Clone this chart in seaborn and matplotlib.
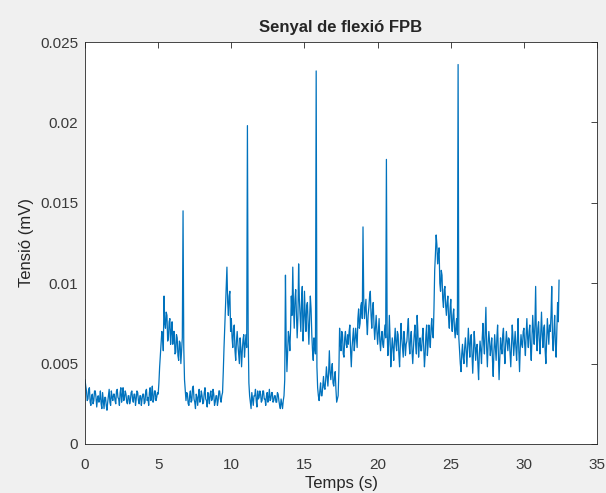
import numpy as np
import pandas as pd
from matplotlib import pyplot as plt
import seaborn as sns

tensio = [
    40, 36, 33, 27, 28, 34, 35, 26, 24, 30, 31, 25, 27, 33, 33, 29, 23, 28, 30, 26,
    28, 33, 25, 22, 32, 27, 22, 29, 29, 24, 21, 26, 30, 34, 26, 24, 33, 29, 27, 31,
    31, 27, 25, 33, 34, 29, 28, 24, 32, 35, 26, 30, 35, 27, 29, 33, 31, 26, 25, 30,
    30, 25, 27, 32, 33, 28, 26, 31, 31, 24, 28, 33, 32, 27, 25, 30, 30, 24, 28, 31,
    31, 25, 26, 33, 34, 27, 29, 24, 32, 35, 27, 31, 36, 26, 28, 33, 33, 27, 29, 32,
    31, 38, 48, 55, 62, 70, 68, 58, 92, 75, 72, 82, 80, 64, 66, 76, 78, 62, 70, 76,
    62, 70, 70, 56, 57, 68, 66, 55, 52, 64, 63, 50, 58, 66, 145, 60, 40, 33, 27, 32,
    31, 25, 24, 30, 33, 26, 27, 35, 36, 28, 26, 22, 31, 29, 24, 30, 34, 26, 28, 33,
    30, 25, 26, 32, 35, 28, 27, 23, 32, 29, 25, 31, 33, 27, 28, 34, 31, 24, 26, 30,
    30, 24, 27, 33, 33, 28, 26, 30, 32, 45, 60, 72, 85, 98, 110, 88, 80, 92, 95, 70,
    78, 66, 60, 72, 74, 58, 52, 64, 70, 62, 56, 50, 66, 60, 48, 58, 65, 68, 54, 62,
    68, 60, 198, 70, 38, 30, 26, 22, 32, 28, 24, 30, 30, 34, 27, 23, 33, 28, 29, 33,
    31, 26, 27, 33, 33, 28, 28, 24, 30, 32, 26, 29, 34, 27, 28, 32, 32, 26, 27, 30,
    30, 26, 26, 32, 31, 27, 24, 22, 28, 25, 22, 27, 30, 40, 105, 62, 45, 58, 70, 66,
    58, 72, 92, 80, 110, 85, 72, 90, 96, 80, 66, 78, 112, 90, 80, 70, 90, 98, 64, 74,
    95, 80, 70, 86, 88, 74, 62, 78, 92, 84, 68, 58, 52, 66, 60, 56, 232, 48, 35, 30,
    27, 33, 38, 30, 30, 36, 42, 35, 34, 40, 48, 42, 36, 44, 58, 45, 40, 46, 50, 38,
    36, 42, 45, 34, 26, 28, 30, 45, 72, 62, 58, 70, 68, 56, 54, 66, 70, 62, 60, 68,
    62, 70, 74, 58, 48, 60, 66, 72, 58, 64, 72, 66, 60, 78, 84, 72, 75, 86, 88, 78,
    135, 90, 78, 84, 90, 76, 68, 80, 85, 92, 95, 80, 72, 84, 88, 74, 65, 72, 80, 70,
    62, 70, 78, 64, 58, 66, 70, 62, 60, 68, 74, 66, 177, 70, 55, 62, 80, 66, 48, 58,
    66, 60, 52, 64, 72, 62, 58, 70, 68, 56, 48, 62, 75, 66, 60, 54, 70, 64, 55, 62,
    64, 72, 78, 62, 56, 66, 70, 58, 50, 60, 68, 74, 62, 56, 80, 70, 54, 62, 66, 58,
    58, 66, 72, 60, 48, 56, 68, 74, 55, 62, 74, 66, 60, 72, 78, 68, 66, 84, 108, 118,
    130, 124, 112, 118, 122, 100, 95, 108, 105, 90, 85, 96, 98, 86, 80, 88, 92, 78, 72, 84,
    90, 76, 70, 80, 84, 72, 66, 74, 78, 68, 236, 66, 58, 50, 45, 56, 62, 54, 50, 60,
    66, 58, 48, 60, 72, 62, 54, 66, 68, 56, 44, 58, 70, 62, 52, 60, 62, 50, 40, 56,
    64, 58, 50, 66, 75, 62, 56, 70, 85, 60, 48, 62, 70, 64, 55, 60, 66, 52, 42, 58,
    68, 60, 52, 66, 74, 56, 40, 54, 66, 60, 56, 68, 72, 58, 50, 62, 70, 64, 58, 66,
    65, 56, 48, 62, 74, 66, 55, 62, 70, 60, 52, 64, 78, 58, 45, 60, 68, 62, 60, 70,
    72, 62, 55, 68, 78, 66, 60, 70, 74, 60, 52, 66, 80, 70, 62, 74, 98, 66, 58, 72,
    76, 64, 56, 70, 82, 68, 60, 72, 74, 58, 50, 64, 78, 70, 62, 74, 70, 80, 98, 66,
    58, 70, 80, 62, 54, 72, 88, 76, 102,
]
temps = [i / 20 for i in range(len(tensio))]

xticks = [0, 5, 10, 15, 20, 25, 30, 35]
yticks = [0, 0.005, 0.01, 0.015, 0.02, 0.025]
yticklabels = ['0', '0.005', '0.01', '0.015', '0.02', '0.025']

df = pd.DataFrame({'t': temps, 'v': np.array(tensio) * 1e-4})

sns.set_style('white')
plt.rcParams['font.family'] = ['Liberation Sans', 'DejaVu Sans']

fig = plt.figure(figsize=(6.06, 4.93), dpi=100, facecolor='#f0f0f0')
ax = fig.add_axes([0.1403, 0.0994, 0.845, 0.8154])
sns.lineplot(data=df, x='t', y='v', ax=ax, color='#0072BD', linewidth=0.9,
             estimator=None)

ax.set_xlim(0, 35)
ax.set_ylim(0, 0.025)
ax.set_xticks(xticks)
ax.set_xticklabels([str(x) for x in xticks])
ax.set_yticks(yticks)
ax.set_yticklabels(yticklabels)
ax.tick_params(direction='in', length=4, width=0.6, colors='#262626',
               labelsize=11, top=True, right=True, labelcolor='#3a3a3a')
ax.tick_params(axis='x', pad=10)
ax.tick_params(axis='y', pad=5)
for s in ax.spines.values():
    s.set_color('#262626')
    s.set_linewidth(0.6)

ax.set_title('Senyal de flexió FPB', fontsize=12, fontweight='bold', pad=7)
ax.set_xlabel('Temps (s)', fontsize=12, color='#262626', labelpad=3)
ax.set_ylabel('Tensió (mV)', fontsize=12, color='#262626', labelpad=4)

fig.savefig('out.png', dpi=100, facecolor=fig.get_facecolor())
